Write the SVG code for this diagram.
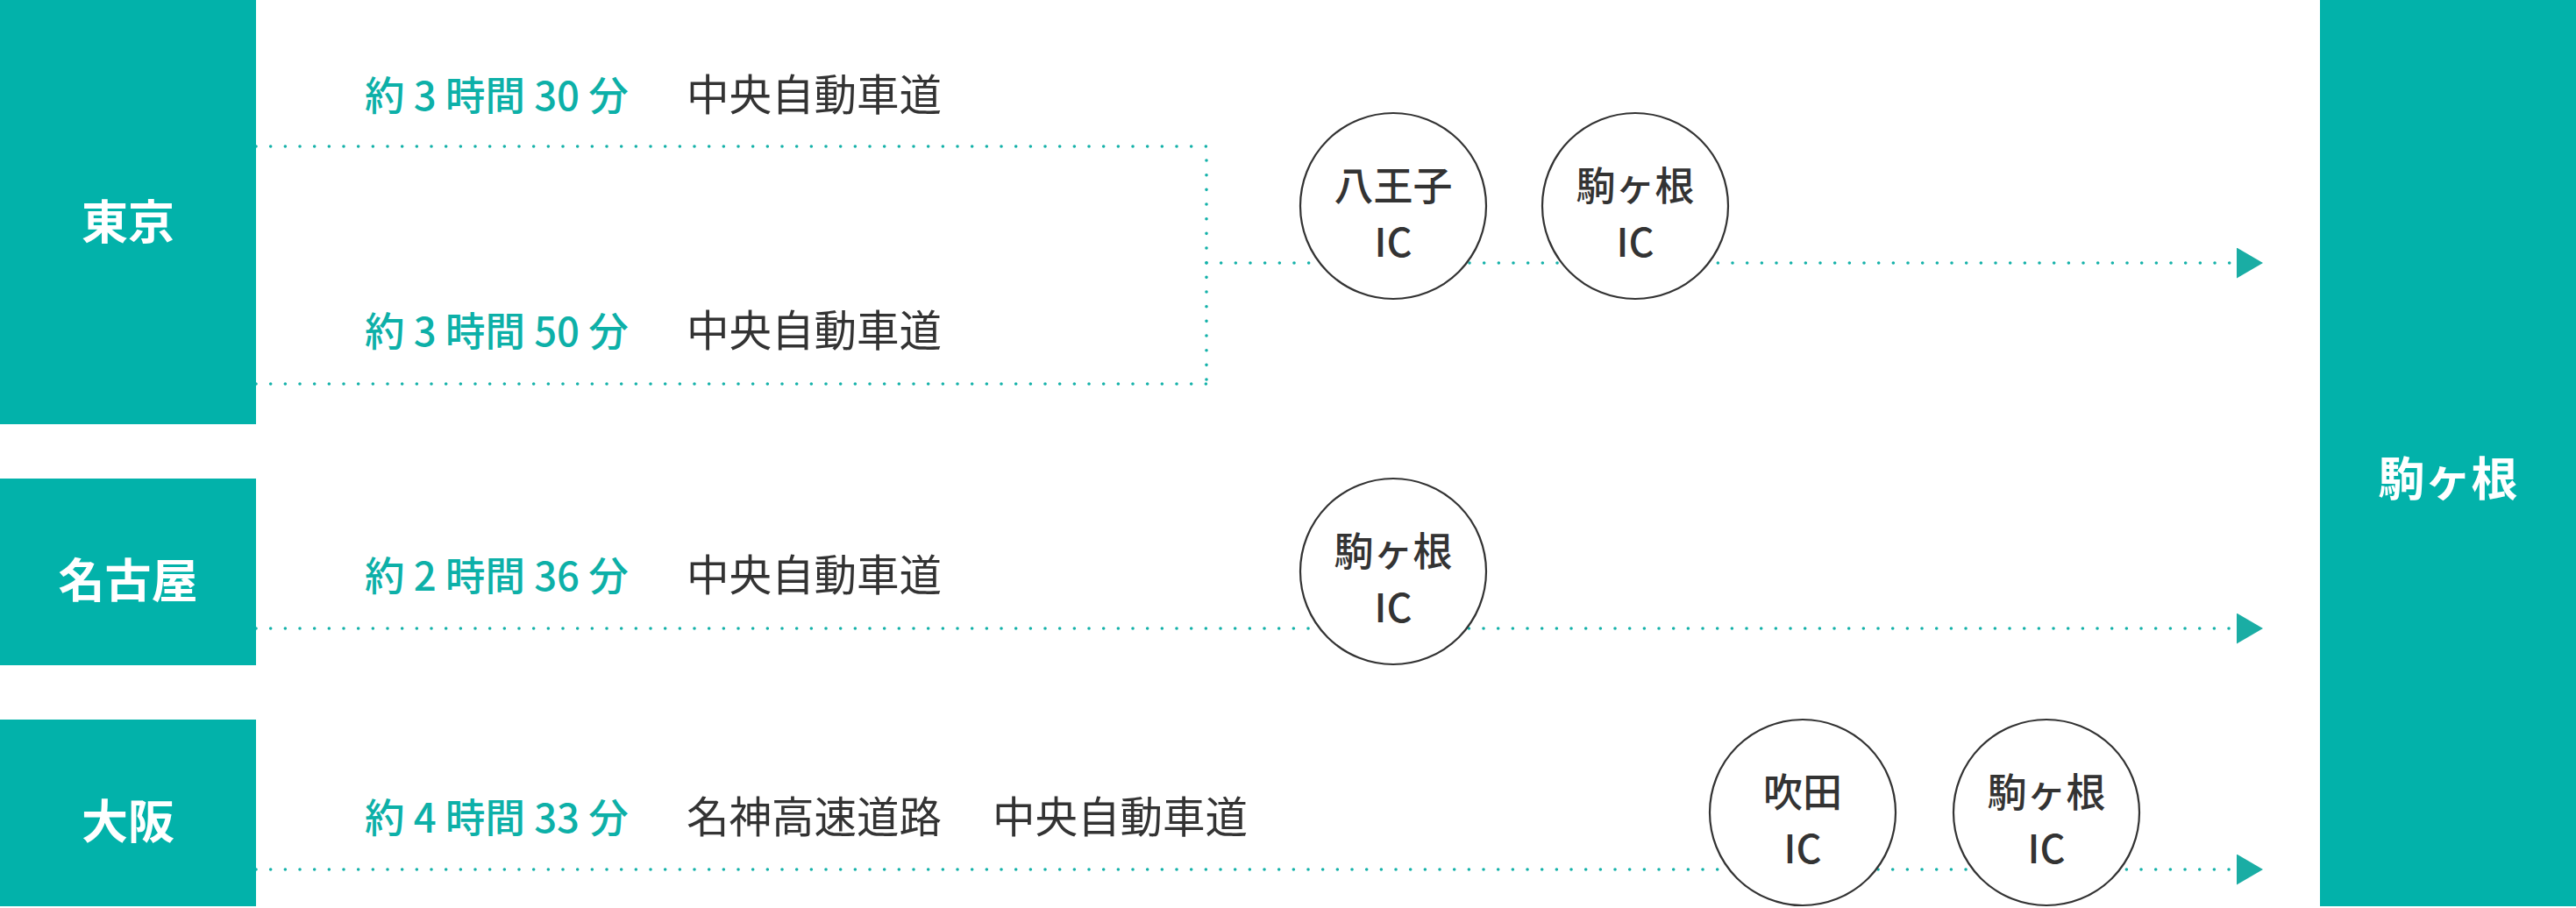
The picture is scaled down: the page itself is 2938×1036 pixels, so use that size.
<svg xmlns="http://www.w3.org/2000/svg" width="2938" height="1036" viewBox="0 0 2938 1036">
  <style>
    .box { fill: #02B2AA; }
    .boxlabel { fill: #FFFFFF; font-family: "Noto Sans CJK JP", "Noto Sans", sans-serif; font-size: 53px; font-weight: 700; text-anchor: middle; }
    .time { fill: #0DB0A8; font-family: "Noto Sans CJK JP", "Noto Sans", sans-serif; font-size: 45.5px; font-weight: 500; }
    .road { fill: #333333; font-family: "Noto Sans CJK JP", "Noto Sans", sans-serif; font-size: 48.5px; font-weight: 400; }
    .ic { fill: #FFFFFF; stroke: #333333; stroke-width: 2.2; }
    .ictext { fill: #333333; font-family: "Noto Sans CJK JP", "Noto Sans", sans-serif; font-size: 45px; font-weight: 500; text-anchor: middle; }
    .dot { fill: none; stroke: #14B1A9; stroke-width: 3.6; stroke-linecap: round; stroke-dasharray: 0 16.667; }
  </style>
  <defs>
    <marker id="arrow" markerUnits="userSpaceOnUse" markerWidth="32" markerHeight="36" refX="0" refY="17.5" orient="auto">
      <polygon points="0,0 30,17.5 0,35" fill="#1AADA4"/>
    </marker>
  </defs>
  <rect width="2938" height="1036" fill="#FFFFFF"/>

  <g id="connectors">
    <path class="dot" d="M292,167 H1376 V438"/>
    <path class="dot" d="M292,438 H1376"/>
    <path class="dot" d="M1376,300 H2551" marker-end="url(#arrow)"/>
    <path class="dot" d="M292,717 H2551" marker-end="url(#arrow)"/>
    <path class="dot" d="M292,992 H2551" marker-end="url(#arrow)"/>
  </g>

  <g id="tokyo">
    <rect class="box" x="0" y="0" width="292" height="484"/>
    <text class="boxlabel" x="146" y="273">東京</text>
  </g>
  <g id="nagoya">
    <rect class="box" x="0" y="546" width="292" height="213"/>
    <text class="boxlabel" x="146" y="682">名古屋</text>
  </g>
  <g id="osaka">
    <rect class="box" x="0" y="821" width="292" height="213"/>
    <text class="boxlabel" x="146" y="957">大阪</text>
  </g>
  <g id="komagane">
    <rect class="box" x="2646" y="0" width="292" height="1034"/>
    <text class="boxlabel" x="2792" y="566">駒ヶ根</text>
  </g>

  <g id="route-labels">
    <text class="time" x="416" y="126">約 3 時間 30 分</text>
    <text class="road" x="783" y="126">中央自動車道</text>
    <text class="time" x="416" y="395">約 3 時間 50 分</text>
    <text class="road" x="783" y="395">中央自動車道</text>
    <text class="time" x="416" y="674">約 2 時間 36 分</text>
    <text class="road" x="783" y="674">中央自動車道</text>
    <text class="time" x="416" y="950">約 4 時間 33 分</text>
    <text class="road" x="783" y="950">名神高速道路</text>
    <text class="road" x="1132" y="950">中央自動車道</text>
  </g>

  <g id="ic-hachioji">
    <circle class="ic" cx="1589" cy="235" r="106"/>
    <text class="ictext" x="1589" y="229">八王子</text>
    <text class="ictext" x="1589" y="293">IC</text>
  </g>
  <g id="ic-komagane-tokyo">
    <circle class="ic" cx="1865" cy="235" r="106"/>
    <text class="ictext" x="1865" y="229">駒ヶ根</text>
    <text class="ictext" x="1865" y="293">IC</text>
  </g>
  <g id="ic-komagane-nagoya">
    <circle class="ic" cx="1589" cy="652" r="106"/>
    <text class="ictext" x="1589" y="646">駒ヶ根</text>
    <text class="ictext" x="1589" y="710">IC</text>
  </g>
  <g id="ic-suita">
    <circle class="ic" cx="2056" cy="927" r="106"/>
    <text class="ictext" x="2056" y="921">吹田</text>
    <text class="ictext" x="2056" y="985">IC</text>
  </g>
  <g id="ic-komagane-osaka">
    <circle class="ic" cx="2334" cy="927" r="106"/>
    <text class="ictext" x="2334" y="921">駒ヶ根</text>
    <text class="ictext" x="2334" y="985">IC</text>
  </g>
</svg>
